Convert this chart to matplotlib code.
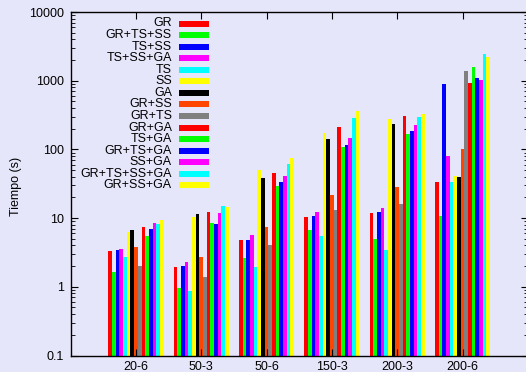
import numpy as np
import matplotlib
matplotlib.use('Agg')
import matplotlib.pyplot as plt
from matplotlib.patches import Rectangle

# instancias del problema
instancias = ['20-6', '50-3', '50-6', '150-3', '200-3', '200-6']

# configuraciones (orden de la leyenda)
configs = ['GR', 'GR+TS+SS', 'TS+SS', 'TS+SS+GA', 'TS', 'SS', 'GA', 'GR+SS',
           'GR+TS', 'GR+GA', 'TS+GA', 'GR+TS+GA', 'SS+GA', 'GR+TS+SS+GA',
           'GR+SS+GA']

colores = ['#ff0000', '#00ff00', '#0000ff', '#ff00ff', '#00ffff', '#ffff00',
           '#000000', '#ff4500', '#808080', '#ff0000', '#00ff00', '#0000ff',
           '#ff00ff', '#00ffff', '#ffff00']

# tiempos (s) por configuracion, una columna por instancia
t_GR = [3.3, 1.93, 4.8, 10.3, 11.8, 33]
t_GR_TS_SS = [1.65, 0.96, 2.6, 6.7, 4.9, 10.7]
t_TS_SS = [3.4, 2.0, 4.8, 10.7, 12.2, 884]
t_TS_SS_GA = [3.53, 2.29, 5.6, 12.2, 13.9, 79]
t_TS = [2.7, 0.87, 1.93, 5.5, 3.4, 34]
t_SS = [6.2, 10.3, 49.7, 171, 274, 41]
t_GA = [6.7, 11.4, 38, 140, 232, 39]
t_GR_SS = [3.8, 2.7, 7.4, 21.5, 28, 100]
t_GR_TS = [2.0, 1.38, 4.0, 13, 15.9, 1365]
t_GR_GA = [7.4, 12.2, 45, 210, 303, 914]
t_TS_GA = [5.5, 8.4, 29, 107, 166, 1560]
t_GR_TS_GA = [6.9, 8.2, 33, 115, 183, 1080]
t_SS_GA = [8.4, 11.8, 41, 145, 224, 1010]
t_GR_TS_SS_GA = [8.2, 14.9, 61, 283, 293, 2410]
t_GR_SS_GA = [9.3, 14.4, 74, 358, 324, 2250]

tiempos = [t_GR, t_GR_TS_SS, t_TS_SS, t_TS_SS_GA, t_TS, t_SS, t_GA, t_GR_SS,
           t_GR_TS, t_GR_GA, t_TS_GA, t_GR_TS_GA, t_SS_GA, t_GR_TS_SS_GA,
           t_GR_SS_GA]

fondo = '#e6e6fa'
plt.rcParams['font.family'] = ['Liberation Sans', 'DejaVu Sans']
plt.rcParams['font.size'] = 9

W, H = 526, 372
fig = plt.figure(figsize=(W / 100, H / 100), dpi=100, facecolor=fondo)
ax = fig.add_axes([70.7 / W, 1 - 355.5 / H, 457.1 / W, 343.5 / H])
ax.set_facecolor(fondo)

x = np.arange(len(instancias))
ancho = 0.0562
n = len(configs)
for i in range(n):
    ax.bar(x + (i - (n - 1) / 2) * ancho, tiempos[i], width=ancho,
           color=colores[i], linewidth=0)

ax.set_yscale('log')
ax.set_ylim(0.1, 10000)
ax.set_xlim(-1, 6)

ax.set_yticks([0.1, 1, 10, 100, 1000, 10000])
ax.set_yticklabels(['0.1', '1', '10', '100', '1000', '10000'])
ax.set_xticks(x)
ax.set_xticklabels(instancias)

ax.tick_params(axis='both', which='both', direction='in', top=True,
               right=True, colors='black')
ax.tick_params(axis='y', which='major', length=5, pad=5)
ax.tick_params(axis='y', which='minor', length=3)
ax.tick_params(axis='x', which='major', length=5, pad=4)
for s in ax.spines.values():
    s.set_linewidth(1)

fig.text(16 / W, 1 - 186 / H, 'Tiempo (s)', rotation=90, ha='center',
         va='center')

# leyenda a la manera de gnuplot: texto alineado a la derecha
for i in range(n):
    yc = 23.5 + i * 11.57
    fig.text(172 / W, 1 - yc / H, configs[i], ha='right', va='center')
    fig.patches.append(Rectangle((179 / W, 1 - (yc + 3) / H), 30 / W, 6 / H,
                                 transform=fig.transFigure,
                                 facecolor=colores[i], linewidth=0))

plt.savefig('out.png', dpi=100, facecolor=fondo)
